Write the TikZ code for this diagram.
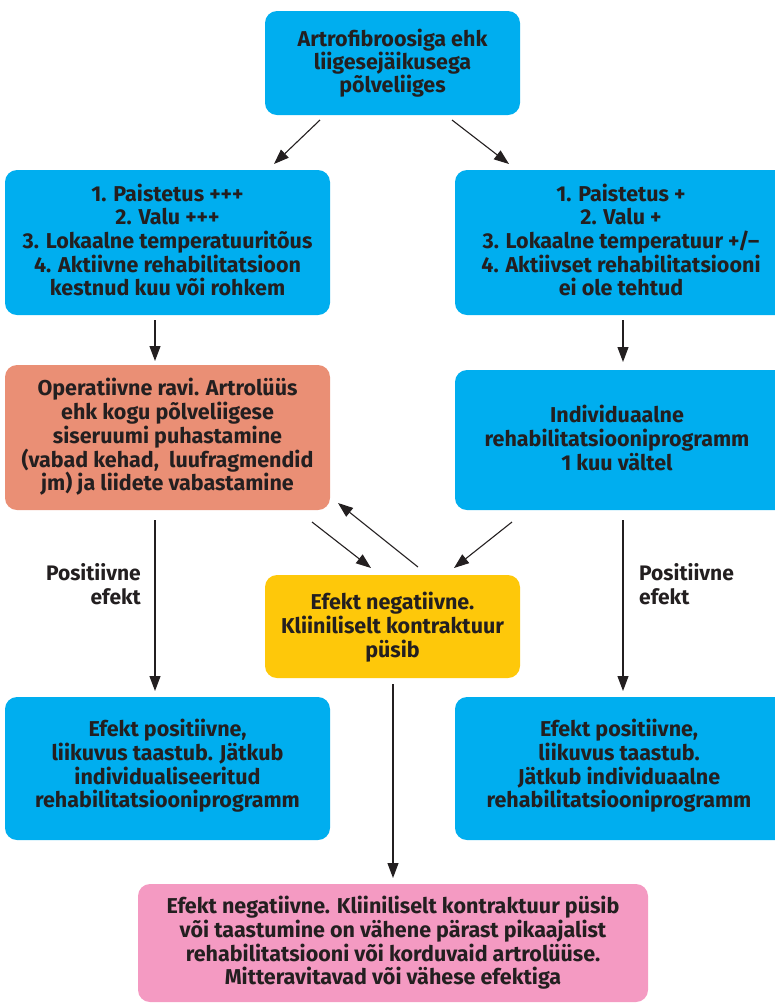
\documentclass[tikz,border=0pt]{standalone}
\usepackage{fontspec}
\setmainfont{Fira Sans}
\usetikzlibrary{arrows.meta}
\definecolor{cyanbox}{HTML}{00AEEF}
\definecolor{salmon}{HTML}{EA8F75}
\definecolor{yellowbox}{HTML}{FEC80A}
\definecolor{pinkbox}{HTML}{F49AC2}
\definecolor{ink}{HTML}{231F20}
\begin{document}
\begin{tikzpicture}[x=1pt,y=-1pt,
  box/.style={rounded corners=12pt, inner sep=0pt, align=center, text=ink,
    font=\fontsize{21.5}{23.7}\selectfont\bfseries},
  arr/.style={-{Triangle[length=15pt,width=11pt]}, line width=1.1pt, draw=ink},
  lbl/.style={text=ink, font=\fontsize{21}{24.5}\selectfont\bfseries, inner sep=0pt}]
\useasboundingbox (0,0) rectangle (775,1005);
% boxes
\fill[cyanbox, rounded corners=12pt] (265,11) rectangle (520,115);
\node[box, font=\fontsize{21.5}{23}\selectfont\bfseries] (top) at (392.5,63) {Artrofibroosiga ehk\\liigesejäikusega\\põlveliiges};
\fill[cyanbox, rounded corners=12pt] (5,170) rectangle (330,315);
\node[box] (l1) at (167.5,240) {1. Paistetus +++\\2. Valu +++\\3. Lokaalne temperatuuritõus\\4. Aktiivne rehabilitatsioon\\kestnud kuu või rohkem};
\fill[cyanbox, rounded corners=12pt] (455,170) rectangle (790,315);
\node[box] (r1) at (621,240) {1. Paistetus +\\2. Valu +\\3. Lokaalne temperatuur +/–\\4. Aktiivset rehabilitatsiooni\\ei ole tehtud};
\fill[salmon, rounded corners=12pt] (5,365) rectangle (330,510);
\node[box] (l2) at (167.5,437) {Operatiivne ravi. Artrolüüs\\ehk kogu põlveliigese\\siseruumi puhastamine\\(vabad kehad,\ \ luufragmendid\\jm) ja liidete vabastamine};
\fill[cyanbox, rounded corners=12pt] (455,370) rectangle (790,510);
\node[box] (r2) at (617,438) {Individuaalne\\rehabilitatsiooniprogramm\\1 kuu vältel};
\fill[yellowbox, rounded corners=12pt] (265,575) rectangle (520,678);
\node[box] (y) at (392.5,627) {Efekt negatiivne.\\Kliiniliselt kontraktuur\\püsib};
\fill[cyanbox, rounded corners=12pt] (5,697) rectangle (330,840);
\node[box] (l3) at (167.5,766) {Efekt positiivne,\\liikuvus taastub. Jätkub\\individualiseeritud\\rehabilitatsiooniprogramm};
\fill[cyanbox, rounded corners=12pt] (455,697) rectangle (790,840);
\node[box] (r3) at (619,766) {Efekt positiivne,\\liikuvus taastub.\\Jätkub individuaalne\\rehabilitatsiooniprogramm};
\fill[pinkbox, rounded corners=12pt] (138,884) rectangle (648,1002);
\node[box] (b) at (393,943) {Efekt negatiivne. Kliiniliselt kontraktuur püsib\\või taastumine on vähene pärast pikaajalist\\rehabilitatsiooni või korduvaid artrolüüse.\\Mitteravitavad või vähese efektiga};
% labels
\node[lbl, align=right, anchor=east] (pl) at (141,584) {Positiivne\\efekt};
\node[lbl, align=left, anchor=west] (pr) at (639,584) {Positiivne\\efekt};
% connector endpoints
\coordinate (a1s) at (320,120); \coordinate (a1e) at (274,164);
\coordinate (a2s) at (452,120); \coordinate (a2e) at (509,164);
\coordinate (a3s) at (155,320); \coordinate (a3e) at (155,361);
\coordinate (a4s) at (623,320); \coordinate (a4e) at (623,362);
\coordinate (a5s) at (312,522); \coordinate (a5e) at (371,568);
\coordinate (a6s) at (418,567); \coordinate (a6e) at (338,503);
\coordinate (a7s) at (512,522); \coordinate (a7e) at (454,568);
\coordinate (a8s) at (155,520); \coordinate (a8e) at (155,691);
\coordinate (a9s) at (623,520); \coordinate (a9e) at (623,691);
\coordinate (a10s) at (393,684); \coordinate (a10e) at (393,878);
\draw[arr] (a1s) -- (a1e);
\draw[arr] (a2s) -- (a2e);
\draw[arr] (a3s) -- (a3e);
\draw[arr] (a4s) -- (a4e);
\draw[arr] (a5s) -- (a5e);
\draw[arr] (a6s) -- (a6e);
\draw[arr] (a7s) -- (a7e);
\draw[arr] (a8s) -- (a8e);
\draw[arr] (a9s) -- (a9e);
\draw[arr] (a10s) -- (a10e);
\end{tikzpicture}
\end{document}
